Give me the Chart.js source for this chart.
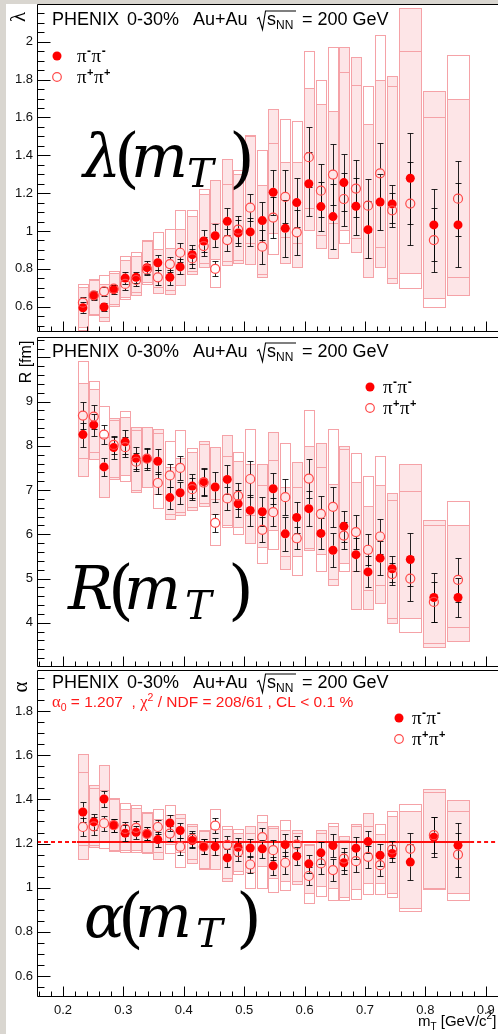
<!DOCTYPE html>
<html><head><meta charset="utf-8">
<script src="https://cdn.jsdelivr.net/npm/chart.js@4.4.0/dist/chart.umd.min.js"></script>
<style>
html,body{margin:0;padding:0;background:#fff;overflow:hidden}
#page{position:relative;width:498px;height:1034px;background:#fff;overflow:hidden}
#gl{position:absolute;left:0;top:0;width:6px;height:1034px;background:#d9d6d0}
#gt{position:absolute;left:0;top:0;width:498px;height:4px;background:#d9d6d0}
canvas{position:absolute;left:0}
</style></head>
<body><div id="page"><div id="gl"></div><div id="gt"></div>
<canvas id="c1" width="498" height="335" style="top:0px"></canvas>
<canvas id="c2" width="498" height="333" style="top:335px"></canvas>
<canvas id="c3" width="498" height="366" style="top:668px"></canvas>
</div>
<script>
// ---------------- DATA ----------------
const mT = [0.233,0.251,0.268,0.284,0.303,0.321,0.339,0.357,0.377,0.394,0.414,0.433,0.452,0.472,0.490,0.510,0.530,0.548,0.568,0.587,0.607,0.627,0.647,0.665,0.685,0.705,0.725,0.745,0.775,0.814,0.854];
const binHalf = [0.008,0.008,0.008,0.008,0.008,0.008,0.008,0.008,0.008,0.008,0.008,0.008,0.008,0.008,0.008,0.008,0.008,0.008,0.008,0.008,0.008,0.008,0.008,0.008,0.008,0.008,0.008,0.008,0.018,0.018,0.018];

// lambda
const lamMinus = [0.594,0.658,0.598,0.690,0.751,0.755,0.806,0.832,0.755,0.810,0.875,0.947,0.975,1.051,0.990,0.995,1.055,1.205,1.014,1.150,1.250,1.129,1.076,1.256,1.131,1.007,1.153,1.143,1.279,1.032,1.032];
const lamMinusErr = [0.03,0.025,0.02,0.025,0.03,0.03,0.035,0.04,0.04,0.04,0.05,0.06,0.06,0.07,0.07,0.075,0.10,0.12,0.15,0.13,0.17,0.13,0.17,0.15,0.15,0.15,0.15,0.10,0.24,0.19,0.22];
const lamMinusSys = [[0.494,0.705],[0.56,0.74],[0.524,0.72],[0.605,0.78],[0.65,0.845],[0.664,0.869],[0.73,0.945],[0.673,0.905],[0.667,0.91],[0.715,1.01],[0.77,1.08],[0.808,1.196],[0.85,1.27],[0.82,1.38],[0.83,1.30],[0.824,1.506],[0.758,1.243],[0.988,1.645],[0.829,1.367],[0.811,1.363],[1.005,1.755],[0.908,1.670],[0.859,1.633],[1.005,1.972],[0.887,1.922],[0.758,1.564],[0.811,1.799],[0.723,1.817],[0.776,2.178],[0.644,1.741],[0.663,1.698]];
const lamPlus = [0.621,0.660,0.681,0.695,0.720,0.741,0.797,0.755,0.825,0.885,0.855,0.920,0.800,0.952,1.007,1.123,0.917,1.071,1.180,0.993,1.390,1.213,1.298,1.169,1.224,1.134,1.305,1.109,1.145,0.952,1.171];
const lamPlusErr = [0.03,0.02,0.025,0.02,0.03,0.03,0.03,0.04,0.04,0.05,0.05,0.05,0.04,0.06,0.07,0.07,0.09,0.11,0.14,0.12,0.16,0.14,0.16,0.14,0.15,0.14,0.16,0.09,0.22,0.17,0.2];
const lamPlusSys = [[0.476,0.72],[0.555,0.745],[0.543,0.766],[0.615,0.79],[0.64,0.87],[0.68,0.887],[0.72,0.952],[0.705,0.993],[0.69,1.009],[0.775,1.111],[0.79,1.11],[0.833,1.222],[0.705,1.04],[0.84,1.25],[0.846,1.322],[0.935,1.5],[0.77,1.429],[0.878,1.464],[0.970,1.593],[0.935,1.580],[1.12,1.949],[0.979,1.797],[1.041,1.972],[0.935,1.840],[0.961,1.772],[0.855,1.764],[0.917,2.034],[0.750,1.767],[0.697,1.949],[0.596,1.601],[0.755,1.928]];

// R
const rMinus = [8.254,8.473,7.523,7.96,8.09,7.72,7.71,7.65,6.83,6.94,7.09,7.19,7.07,7.24,6.69,6.54,6.51,7.03,6.01,6.38,6.58,6.02,5.64,6.18,5.54,5.15,5.46,5.22,5.43,4.57,4.57];
const rMinusErr = [0.27,0.25,0.2,0.25,0.27,0.25,0.25,0.28,0.25,0.25,0.28,0.3,0.33,0.33,0.3,0.35,0.33,0.35,0.38,0.36,0.4,0.35,0.38,0.35,0.38,0.35,0.38,0.3,0.6,0.55,0.45];
const rMinusSys = [[7.32,9.42],[7.70,9.28],[6.84,8.2],[7.25,8.64],[7.33,8.65],[6.95,8.43],[7.08,8.43],[6.9,8.39],[6.34,7.53],[6.44,7.72],[6.55,7.85],[6.64,8.1],[6.45,7.98],[6.2,8.25],[6.17,7.65],[5.8,7.58],[5.72,7.6],[6.1,8.31],[5.21,7.08],[5.5,7.64],[5.65,8.0],[5.56,8.06],[4.85,7.14],[5.36,8.0],[4.3,7.19],[4.31,6.64],[4.44,7.12],[3.99,6.93],[4.1,7.58],[3.46,6.33],[3.59,6.21]];
const rPlus = [8.684,8.66,8.254,8.02,7.97,7.64,7.71,7.16,7.33,7.5,7.02,7.17,6.26,6.81,6.87,7.25,6.10,6.50,6.84,5.91,7.26,6.46,6.62,5.97,6.05,5.65,5.95,5.10,5.0,4.47,4.97];
const rPlusErr = [0.3,0.27,0.22,0.2,0.22,0.2,0.22,0.25,0.25,0.28,0.25,0.3,0.2,0.25,0.3,0.4,0.28,0.32,0.4,0.25,0.45,0.4,0.45,0.3,0.38,0.35,0.4,0.25,0.5,0.45,0.5];
const rPlusSys = [[7.72,9.91],[7.87,9.47],[7.5,8.91],[7.29,8.59],[7.21,8.79],[7.0,8.36],[7.08,8.43],[6.59,8.3],[6.45,8.1],[6.5,8.36],[6.61,7.95],[6.7,8.05],[5.76,6.8],[6.16,7.76],[6.01,7.85],[6.44,8.39],[5.36,7.12],[5.66,7.68],[5.5,8.07],[5.08,7.08],[5.7,8.8],[5.17,7.51],[5.0,8.38],[5.16,7.93],[5.18,7.83],[4.74,7.32],[4.85,7.76],[4.1,6.78],[3.78,6.98],[3.54,6.21],[3.91,6.75]];

// alpha
const aMinus = [1.343,1.298,1.402,1.283,1.247,1.251,1.244,1.218,1.293,1.259,1.214,1.186,1.186,1.135,1.183,1.18,1.176,1.099,1.195,1.143,1.108,1.158,1.191,1.113,1.179,1.209,1.147,1.155,1.116,1.229,1.192];
const aMinusErr = [0.045,0.035,0.035,0.03,0.035,0.03,0.03,0.035,0.035,0.035,0.035,0.035,0.04,0.04,0.04,0.04,0.04,0.04,0.05,0.04,0.04,0.05,0.05,0.05,0.05,0.05,0.05,0.04,0.08,0.09,0.1];
const aMinusSys = [[1.131,1.606],[1.183,1.463],[1.206,1.555],[1.165,1.406],[1.173,1.358],[1.173,1.361],[1.155,1.343],[1.131,1.31],[1.2,1.328],[1.16,1.334],[1.113,1.289],[1.083,1.26],[1.083,1.266],[1.03,1.266],[1.075,1.248],[1.07,1.278],[1.098,1.296],[1.045,1.278],[1.03,1.263],[1.015,1.263],[0.977,1.2],[1.007,1.263],[1.0,1.28],[0.959,1.233],[0.992,1.289],[1.02,1.338],[1.022,1.241],[0.977,1.323],[0.91,1.346],[0.992,1.448],[0.977,1.396]];
const aPlus = [1.275,1.278,1.292,1.283,1.266,1.271,1.244,1.275,1.245,1.186,1.221,1.186,1.281,1.194,1.162,1.105,1.229,1.17,1.113,1.195,1.053,1.11,1.08,1.132,1.12,1.14,1.102,1.173,1.176,1.238,1.15];
const aPlusErr = [0.04,0.04,0.035,0.03,0.03,0.03,0.03,0.03,0.035,0.04,0.035,0.035,0.035,0.04,0.04,0.04,0.04,0.045,0.05,0.04,0.04,0.05,0.05,0.05,0.05,0.05,0.05,0.04,0.07,0.08,0.1];
const aPlusSys = [[1.195,1.522],[1.195,1.451],[1.18,1.444],[1.17,1.40],[1.161,1.384],[1.162,1.375],[1.16,1.338],[1.16,1.357],[1.155,1.373],[1.095,1.316],[1.128,1.278],[1.09,1.255],[1.15,1.358],[1.045,1.278],[1.063,1.266],[1.0,1.248],[1.0,1.331],[0.98,1.27],[0.99,1.305],[1.03,1.25],[0.932,1.195],[0.962,1.25],[0.944,1.293],[0.944,1.215],[0.947,1.278],[0.97,1.278],[0.97,1.289],[0.959,1.346],[0.895,1.379],[1.0,1.432],[0.944,1.346]];

const alphaFit = 1.207;
const fitRange = [0.223, 0.874];

// axes / tick labels
const xTickLabels = [0.2,0.3,0.4,0.5,0.6,0.7,0.8,0.9];
const lamTickLabels = [0.6,0.8,1.0,1.2,1.4,1.6,1.8,2.0];
const rTickLabels = [4,5,6,7,8,9];
const aTickLabels = [0.6,0.8,1.0,1.2,1.4,1.6,1.8];

// ---------------- STYLE ----------------
const XMIN = 0.157, XMAX = 0.9202;
const SANS = '"Liberation Sans", Arial, sans-serif';
const SERIF = '"Liberation Serif", "Times New Roman", serif';
const MATH = '"DejaVu Serif", serif';
const BOX_FILL = '#fde5e7', BOX_LINE = '#f5a2a7';
const RED = '#ff0000', RED_OPEN = '#ff4a4a';
Chart.defaults.font.family = SANS;

function fmt(v){ return String(+(+v).toFixed(2)); }

function drawHeader(ctx, b){
  ctx.fillStyle = '#000'; ctx.textAlign = 'left'; ctx.textBaseline = 'alphabetic';
  ctx.font = '18px ' + SANS;
  ctx.fillText('PHENIX', 52, b);
  ctx.fillText('0-30%', 127, b);
  ctx.fillText('Au+Au', 193, b);
  ctx.fillText('s', 267, b);
  ctx.fillText('= 200 GeV', 302, b);
  ctx.font = '12px ' + SANS;
  ctx.fillText('NN', 276, b + 4);
  ctx.strokeStyle = '#000'; ctx.lineWidth = 1.1;
  ctx.beginPath();
  ctx.moveTo(257, b - 6); ctx.lineTo(259, b - 7.5); ctx.lineTo(262.5, b + 4.5);
  ctx.lineTo(265.5, b - 14); ctx.lineTo(296, b - 14);
  ctx.stroke();
}

function drawPiPi(ctx, x, b, sign){
  ctx.fillStyle = '#000'; ctx.textAlign = 'left'; ctx.textBaseline = 'alphabetic';
  let cx = x;
  for (let k = 0; k < 2; k++){
    ctx.font = '19px ' + SERIF;
    ctx.fillText('π', cx, b); cx += ctx.measureText('π').width + 0.5;
    ctx.font = (sign === '+' ? 'bold 11px ' : 'bold 12px ') + SANS;
    ctx.fillText(sign === '+' ? '+' : '-', cx, b - 7); cx += ctx.measureText(sign === '+' ? '+' : '-').width + 0.5;
  }
}

function drawLegend(ctx, L){
  ctx.fillStyle = RED;
  ctx.beginPath(); ctx.arc(L.mx, L.y1, 4.5, 0, Math.PI * 2); ctx.fill();
  ctx.strokeStyle = RED_OPEN; ctx.lineWidth = 1.2;
  ctx.beginPath(); ctx.arc(L.mx, L.y2, 4.3, 0, Math.PI * 2); ctx.stroke();
  drawPiPi(ctx, L.tx, L.y1 + 6, '-');
  drawPiPi(ctx, L.tx, L.y2 + 6, '+');
}

function drawBig(ctx, B){
  ctx.fillStyle = '#000'; ctx.textAlign = 'left'; ctx.textBaseline = 'alphabetic';
  ctx.font = 'italic 60px ' + MATH;
  ctx.fillText(B.sym, B.xs, B.b);
  ctx.fillText('m', B.xm, B.b);
  ctx.font = '66px ' + MATH;
  ctx.fillText('(', B.xo, B.b + 3);
  ctx.fillText(')', B.xc, B.b + 3);
  ctx.font = 'italic 40px ' + MATH;
  ctx.fillText('T', B.xt, B.b + 10);
}

function drawRotated(ctx, text, x, y, font){
  ctx.save(); ctx.translate(x, y); ctx.rotate(-Math.PI / 2);
  ctx.font = font; ctx.fillStyle = '#000'; ctx.textAlign = 'center'; ctx.textBaseline = 'alphabetic';
  ctx.fillText(text, 0, 0); ctx.restore();
}

function drawFitText(ctx){
  ctx.fillStyle = '#ff1a1a'; ctx.textAlign = 'left'; ctx.textBaseline = 'alphabetic';
  const b = 707; let x = 52;
  const put = (t, f, dy) => { ctx.font = f; ctx.fillText(t, x, b + (dy || 0)); x += ctx.measureText(t).width; };
  put('α', '16.5px ' + SERIF);
  put('0', '10.5px ' + SANS, 4);
  put(' = 1.207  , ', '15.5px ' + SANS);
  put('χ', '16.5px ' + SERIF);
  put('2', '10.5px ' + SANS, -6);
  put(' / NDF = 208/61 , CL < 0.1 %', '15.5px ' + SANS);
}

function drawXTitle(ctx){
  ctx.fillStyle = '#000'; ctx.textAlign = 'left'; ctx.textBaseline = 'alphabetic';
  const b = 1026; let x = 418;
  const put = (t, f, dy) => { ctx.font = f; ctx.fillText(t, x, b + (dy || 0)); x += ctx.measureText(t).width; };
  put('m', '15px ' + SANS);
  put('T', '10px ' + SANS, 4);
  put(' [GeV/c', '15px ' + SANS);
  put('2', '10px ' + SANS, -7);
  put(']', '15px ' + SANS);
}

function panelPlugin(P){
  return {
    id: 'panel_' + P.id,
    beforeDatasetsDraw(chart){
      const {ctx, chartArea: a, scales: {x, y}} = chart;
      ctx.save();
      ctx.beginPath(); ctx.rect(a.left, a.top, a.right - a.left, a.bottom - a.top); ctx.clip();
      const boxPx = (i, lo, hi) => {
        const x0 = Math.round(x.getPixelForValue(mT[i] - binHalf[i])) + 0.5;
        const x1 = Math.round(x.getPixelForValue(mT[i] + binHalf[i])) + 0.5;
        const y0 = Math.round(y.getPixelForValue(hi)) + 0.5;
        const y1 = Math.round(y.getPixelForValue(lo)) + 0.5;
        return [x0, y0, x1 - x0, y1 - y0];
      };
      ctx.lineWidth = 1;
      P.minusSys.forEach(([lo, hi], i) => {
        const r = boxPx(i, lo, hi);
        ctx.fillStyle = BOX_FILL; ctx.fillRect(...r);
        ctx.strokeStyle = BOX_LINE; ctx.strokeRect(...r);
      });
      P.plusSys.forEach(([lo, hi], i) => {
        const r = boxPx(i, lo, hi);
        ctx.strokeStyle = BOX_LINE; ctx.strokeRect(...r);
      });
      if (P.fit !== undefined){
        const yy = Math.round(y.getPixelForValue(P.fit));
        const xa = x.getPixelForValue(fitRange[0]), xb = x.getPixelForValue(fitRange[1]);
        ctx.strokeStyle = '#ff1010'; ctx.lineWidth = 2;
        ctx.beginPath(); ctx.moveTo(xa, yy); ctx.lineTo(xb, yy); ctx.stroke();
        ctx.setLineDash([4, 3]);
        ctx.beginPath(); ctx.moveTo(a.left, yy); ctx.lineTo(xa, yy); ctx.stroke();
        ctx.beginPath(); ctx.moveTo(xb, yy); ctx.lineTo(a.right, yy); ctx.stroke();
        ctx.setLineDash([]);
      }
      ctx.strokeStyle = 'rgba(0,0,0,0.85)'; ctx.lineWidth = 1;
      const errs = (vals, errsArr) => {
        vals.forEach((v, i) => {
          const px = Math.round(x.getPixelForValue(mT[i])) + 0.5;
          const yc = y.getPixelForValue(v);
          const yt = Math.round(y.getPixelForValue(v + errsArr[i])) + 0.5;
          const yb = Math.round(y.getPixelForValue(v - errsArr[i])) + 0.5;
          ctx.beginPath();
          if (yc - 4.5 > yt){ ctx.moveTo(px, yt); ctx.lineTo(px, yc - 4.5); }
          if (yc + 4.5 < yb){ ctx.moveTo(px, yc + 4.5); ctx.lineTo(px, yb); }
          ctx.moveTo(px - 3, yt); ctx.lineTo(px + 3, yt);
          ctx.moveTo(px - 3, yb); ctx.lineTo(px + 3, yb);
          ctx.stroke();
        });
      };
      errs(P.minus, P.minusErr);
      errs(P.plus, P.plusErr);
      ctx.restore();
    },
    afterDraw(chart){
      const {ctx, chartArea: a, scales: {x, y}} = chart;
      ctx.save();
      // frame
      ctx.strokeStyle = '#000'; ctx.lineWidth = 1;
      const L = Math.round(a.left) + 0.5, T = Math.round(a.top) + 0.5, B = Math.round(a.bottom) - 0.5;
      ctx.beginPath();
      ctx.moveTo(a.right, T); ctx.lineTo(L, T); ctx.lineTo(L, B); ctx.lineTo(a.right, B);
      ctx.stroke();
      // y ticks
      ctx.beginPath();
      for (let v = P.minorStart; v < P.ymax + 1e-9; v += P.minorStep){
        const vv = +v.toFixed(4);
        const py = Math.round(y.getPixelForValue(vv)) + 0.5;
        if (py < a.top + 1 || py > a.bottom - 1) continue;
        const isMajor = Math.abs(vv / P.majorStep - Math.round(vv / P.majorStep)) < 1e-6;
        ctx.moveTo(L, py); ctx.lineTo(L + (isMajor ? 13 : 7), py);
      }
      // x ticks
      for (let v = 0.16; v < XMAX; v += 0.02){
        const vv = +v.toFixed(4);
        const px = Math.round(x.getPixelForValue(vv)) + 0.5;
        if (px < a.left + 2 || px > a.right) continue;
        const isMajor = Math.abs(vv * 10 - Math.round(vv * 10)) < 1e-6;
        ctx.moveTo(px, B); ctx.lineTo(px, B - (isMajor ? 10 : 5));
      }
      ctx.stroke();
      // texts in page coordinates
      ctx.translate(0, -P.top);
      drawHeader(ctx, P.headerBase);
      drawLegend(ctx, P.legend);
      drawBig(ctx, P.big);
      drawRotated(ctx, P.ytitle, P.ytitlePos[0], P.ytitlePos[1], P.ytitleFont);
      if (P.id === 'a'){ drawFitText(ctx); drawXTitle(ctx); }
      ctx.restore();
    }
  };
}

function noPad(s){ s.paddingTop = 0; s.paddingBottom = 0; s.paddingLeft = 0; s.paddingRight = 0; }

function makePanel(canvasId, P){
  const ds = (vals, filled) => ({
    data: mT.map((xv, i) => ({x: xv, y: vals[i]})),
    showLine: false,
    pointRadius: 4.5, pointHoverRadius: 4.5,
    pointBackgroundColor: filled ? RED : 'rgba(0,0,0,0)',
    pointBorderColor: filled ? RED : RED_OPEN,
    pointBorderWidth: filled ? 0 : 1.2
  });
  new Chart(document.getElementById(canvasId), {
    type: 'scatter',
    data: {datasets: [ds(P.plus, false), ds(P.minus, true)]},
    options: {
      responsive: false, animation: false, devicePixelRatio: 1,
      events: [],
      layout: {autoPadding: false, padding: {left: 0, right: 0, top: P.padTop, bottom: P.padBottom}},
      plugins: {legend: {display: false}, tooltip: {enabled: false}},
      scales: {
        x: {
          type: 'linear', min: XMIN, max: XMAX, display: P.showX,
          grid: {display: false, drawTicks: false}, border: {display: false},
          ticks: {autoSkip: false, maxRotation: 0, padding: 6, color: '#111', font: {size: 13, family: SANS}, callback: v => fmt(v)},
          afterBuildTicks: s => { s.ticks = xTickLabels.map(v => ({value: v})); },
          afterFit: s => { s.height = P.showX ? 37 : 0; noPad(s); }
        },
        y: {
          type: 'linear', min: P.ymin, max: P.ymax,
          grid: {display: false, drawTicks: false}, border: {display: false},
          ticks: {autoSkip: false, padding: 4, color: '#111', font: {size: 13, family: SANS}, callback: v => fmt(v)},
          afterBuildTicks: s => { s.ticks = P.yLabels.map(v => ({value: v})); },
          afterFit: s => { s.width = 37; noPad(s); }
        }
      }
    },
    plugins: [panelPlugin(P)]
  });
}

makePanel('c1', {
  id: 'l', top: 0, padTop: 4, padBottom: 3, showX: false,
  ymin: 0.466, ymax: 2.2, yLabels: lamTickLabels, majorStep: 0.2, minorStep: 0.05, minorStart: 0.5,
  minus: lamMinus, minusErr: lamMinusErr, minusSys: lamMinusSys,
  plus: lamPlus, plusErr: lamPlusErr, plusSys: lamPlusSys,
  headerBase: 25,
  legend: {mx: 57, y1: 56, y2: 77, tx: 77},
  big: {sym: 'λ', xs: 83, xo: 114, xm: 131, xt: 187, xc: 229, b: 177},
  ytitle: 'λ', ytitlePos: [25, 17], ytitleFont: '21px ' + SERIF
});
makePanel('c2', {
  id: 'r', top: 335, padTop: 2, padBottom: 1, showX: false,
  ymin: 3.0, ymax: 10.46, yLabels: rTickLabels, majorStep: 1, minorStep: 0.2, minorStart: 3.2,
  minus: rMinus, minusErr: rMinusErr, minusSys: rMinusSys,
  plus: rPlus, plusErr: rPlusErr, plusSys: rPlusSys,
  headerBase: 357,
  legend: {mx: 370, y1: 387, y2: 408, tx: 383},
  big: {sym: 'R', xs: 68, xo: 108, xm: 124, xt: 185, xc: 228, b: 609},
  ytitle: 'R [fm]', ytitlePos: [31, 362], ytitleFont: '16px ' + SANS
});
makePanel('c3', {
  id: 'a', top: 668, padTop: 2, padBottom: 0, showX: true,
  ymin: 0.505, ymax: 1.986, yLabels: aTickLabels, majorStep: 0.2, minorStep: 0.05, minorStart: 0.55,
  minus: aMinus, minusErr: aMinusErr, minusSys: aMinusSys,
  plus: aPlus, plusErr: aPlusErr, plusSys: aPlusSys,
  fit: alphaFit,
  headerBase: 688,
  legend: {mx: 399, y1: 718, y2: 739, tx: 412},
  big: {sym: 'α', xs: 84, xo: 118, xm: 135, xt: 196, xc: 236, b: 937},
  ytitle: 'α', ytitlePos: [27, 687], ytitleFont: '21px ' + SERIF
});
</script>
</body></html>
